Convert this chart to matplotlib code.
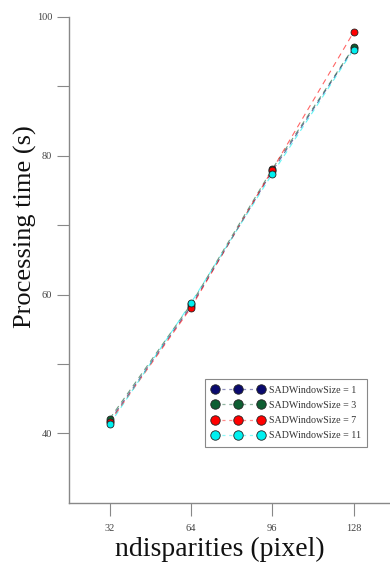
import matplotlib.pyplot as plt
from matplotlib.colors import to_rgba

plt.rcParams['font.family'] = ['Liberation Serif', 'DejaVu Serif']

ndisparities = [32, 64, 96, 128]
sad_1 = [41.8, 58.3, 77.8, 95.5]
sad_3 = [42.1, 58.6, 78.1, 95.6]
sad_7 = [41.6, 58.1, 78.0, 97.8]
sad_11 = [41.3, 58.8, 77.4, 95.3]

series = [
    ('SADWindowSize = 1', sad_1, '#0a0a6e'),
    ('SADWindowSize = 3', sad_3, '#0e5e32'),
    ('SADWindowSize = 7', sad_7, '#ff0000'),
    ('SADWindowSize = 11', sad_11, '#00f0f0'),
]

fig = plt.figure(figsize=(3.9, 5.63), dpi=100)
ax = fig.add_axes([0.177, 0.107, 0.834, 0.863])

for label, vals, c in series:
    ax.plot(ndisparities, vals, linestyle=(0, (5, 4)), color=to_rgba(c, 0.6),
            linewidth=0.8, zorder=2)
    ax.plot(ndisparities, vals, linestyle='none', marker='o', markersize=5,
            markerfacecolor=c, markeredgecolor='#222222', markeredgewidth=0.6,
            zorder=3)

# legend handles: marker + faint dashed line
handles = []
for label, vals, c in series:
    h, = ax.plot([], [], linestyle=(0, (2.5, 3)), color=to_rgba(c, 0.45),
                 linewidth=0.9, marker='o', markersize=6.8, markerfacecolor=c,
                 markeredgecolor='#222222', markeredgewidth=0.6)
    handles.append(h)
leg = ax.legend(handles, [s[0] for s in series], loc='lower right',
                bbox_to_anchor=(0.917, 0.115), numpoints=3, fontsize=7.2,
                handlelength=5.2, handletextpad=0.5, labelspacing=0.62,
                borderpad=0.65, borderaxespad=0, fancybox=False, framealpha=1)
leg.get_frame().set_edgecolor('#888888')
leg.get_frame().set_linewidth(0.8)
for t in leg.get_texts():
    t.set_color('#333333')

ax.set_xlim(16, 144)
ax.set_ylim(30, 100)
ax.set_xticks(ndisparities)
ax.set_yticks([40, 60, 80, 100])
ax.set_yticks([50, 70, 90], minor=True)

for s in ['top', 'right']:
    ax.spines[s].set_visible(False)
for s in ['left', 'bottom']:
    ax.spines[s].set_color('#888888')
    ax.spines[s].set_linewidth(1.0)

ax.tick_params(axis='both', which='both', direction='out', length=9,
               width=0.8, color='#888888', labelsize=7.5, labelcolor='#444444')
ax.tick_params(axis='x', pad=6)
ax.tick_params(axis='y', pad=3)

ax.set_xlabel('ndisparities (pixel)', fontsize=20, color='#111111')
ax.set_ylabel('Processing time (s)', fontsize=19, color='#111111')
ax.xaxis.set_label_coords(0.465, -0.071)
ax.yaxis.set_label_coords(-0.097, 0.568)

fig.savefig('out.png', dpi=100)
